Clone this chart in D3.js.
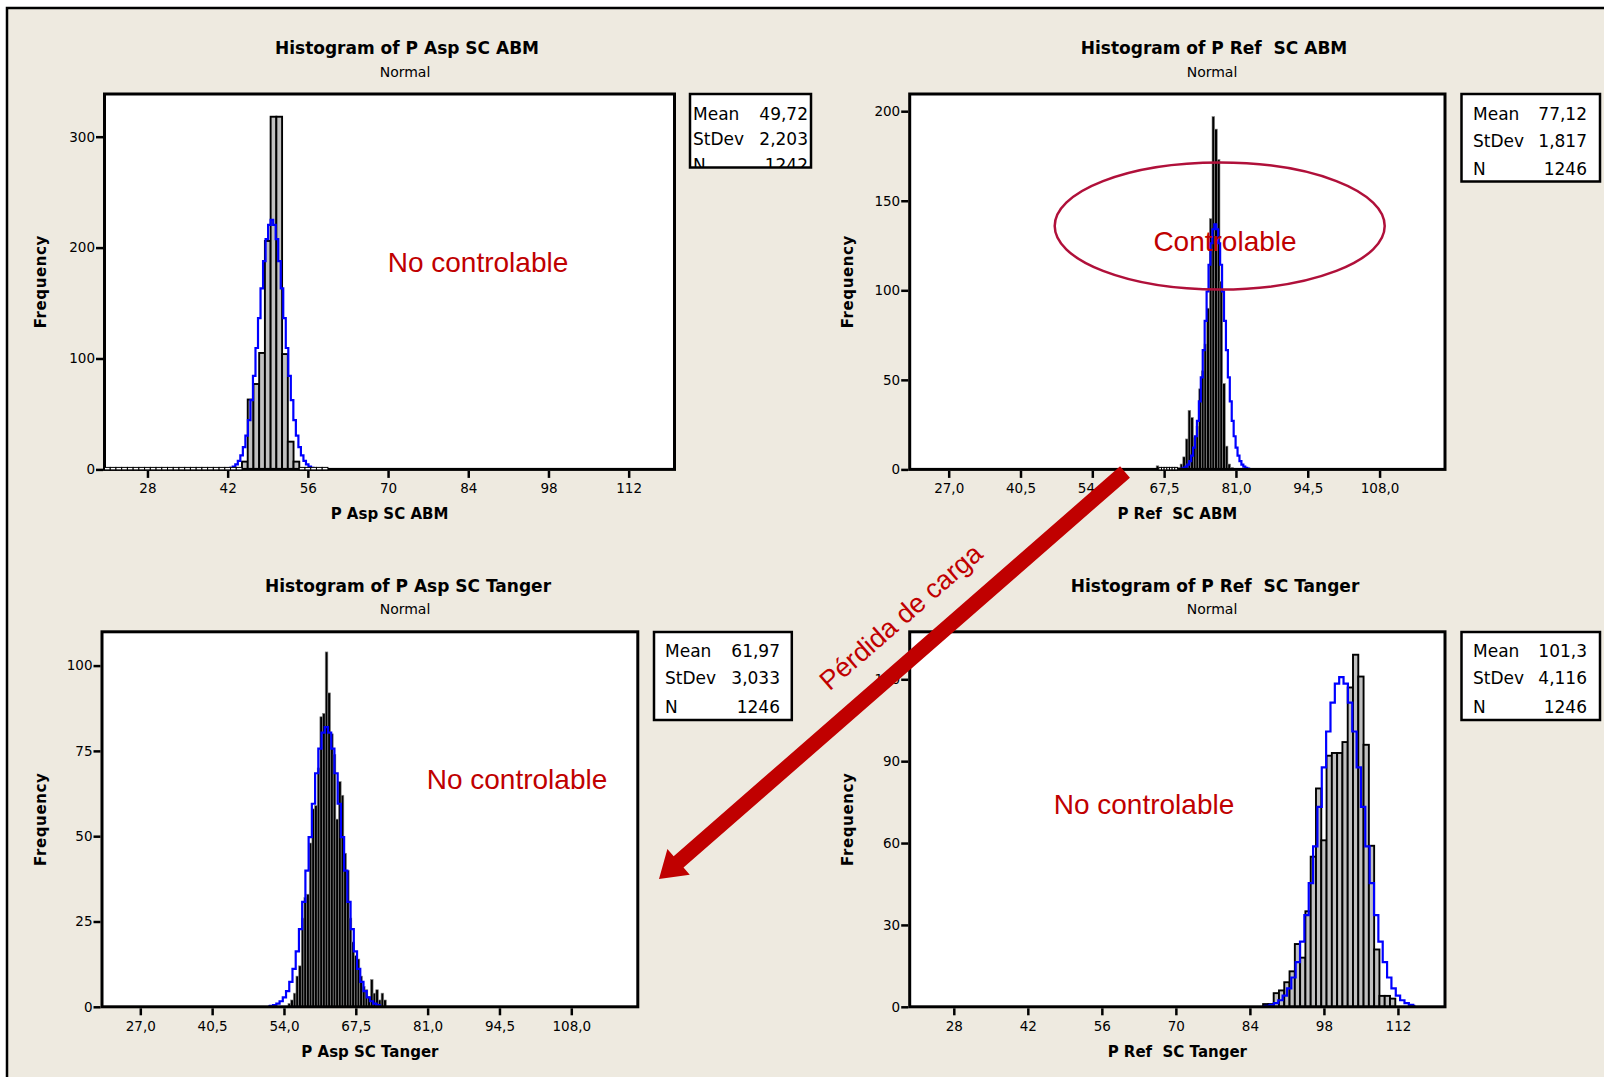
<!DOCTYPE html>
<html><head><meta charset="utf-8">
<script src="https://cdn.jsdelivr.net/npm/d3@7"></script>
<style>body{margin:0;background:#fff;} svg{display:block} text{white-space:pre}</style>
</head><body>
<svg id="c" width="1604" height="1077"></svg>
<script>
// ---------------- DATA ----------------
const statLabels = ["Mean", "StDev", "N"];

// Panel 1 : P Asp SC ABM
const p1Title = "Histogram of P Asp SC ABM";
const p1XLabel = "P Asp SC ABM";
const p1XDomain = [20.5, 120];
const p1XTicks = [28, 42, 56, 70, 84, 98, 112];
const p1XTickLabels = ["28", "42", "56", "70", "84", "98", "112"];
const p1YMax = 338.5;
const p1YTicks = [0, 100, 200, 300];
const p1BinStart = 20.5;
const p1BinWidth = 1;
const p1Counts = [0,0,0,0,0,0,0,0,0,0,0,0,0,0,0,0,0,0,0,0,0,0,0,0,
  7,63,77,105,206,318,318,104,25,7,
  0,0,0,0,0];
const p1Mean = 49.72, p1StDev = 2.203, p1N = 1242;
const p1StatValues = ["49,72", "2,203", "1242"];

// Panel 2 : P Ref SC ABM
const p2Title = "Histogram of P Ref  SC ABM";
const p2XLabel = "P Ref  SC ABM";
const p2XDomain = [19.67, 120.3];
const p2XTicks = [27, 40.5, 54, 67.5, 81, 94.5, 108];
const p2XTickLabels = ["27,0", "40,5", "54,0", "67,5", "81,0", "94,5", "108,0"];
const p2YMax = 209.6;
const p2YTicks = [0, 50, 100, 150, 200];
const p2BinStart = 66.0;
const p2BinWidth = 0.5;
const p2Counts = [2,0,0,0,0,0,0,0,1,3,7,17,33,29,18,24,45,55,70,90,140,197,190,173,105,48,13,3,1];
const p2Mean = 77.12, p2StDev = 1.817, p2N = 1246;
const p2StatValues = ["77,12", "1,817", "1246"];

// Panel 3 : P Asp SC Tanger
const p3Title = "Histogram of P Asp SC Tanger";
const p3XLabel = "P Asp SC Tanger";
const p3XDomain = [19.8, 120.5];
const p3XTicks = [27, 40.5, 54, 67.5, 81, 94.5, 108];
const p3XTickLabels = ["27,0", "40,5", "54,0", "67,5", "81,0", "94,5", "108,0"];
const p3YMax = 109.9;
const p3YTicks = [0, 25, 50, 75, 100];
const p3BinStart = 54.75;
const p3BinWidth = 0.5;
const p3Counts = [1,2,4,9,12,26,32,33,48,58,59,70,85,86,104,92,80,74,55,66,62,45,40,26,19,15,14,9,6,5,3,8,4,5,2,4,2];
const p3Mean = 61.97, p3StDev = 3.033, p3N = 1246;
const p3StatValues = ["61,97", "3,033", "1246"];

// Panel 4 : P Ref SC Tanger
const p4Title = "Histogram of P Ref  SC Tanger";
const p4XLabel = "P Ref  SC Tanger";
const p4XDomain = [19.66, 120.9];
const p4XTicks = [28, 42, 56, 70, 84, 98, 112];
const p4XTickLabels = ["28", "42", "56", "70", "84", "98", "112"];
const p4YMax = 137.4;
const p4YTicks = [0, 30, 60, 90, 120];
const p4BinStart = 86.5;
const p4BinWidth = 1;
const p4Counts = [1,1,5,6,9,13,23,18,35,55,80,61,92,93,93,97,117,129,121,96,59,21,4,4,3];
const p4Mean = 101.3, p4StDev = 4.116, p4N = 1246;
const p4StatValues = ["101,3", "4,116", "1246"];

// Annotations
const noteNoControl = "No controlable";
const noteControl = "Controlable";
const noteArrow = "Pérdida de carga";

// ---------------- LAYOUT ----------------
const FONT = "'DejaVu Sans', Verdana, sans-serif";
const RFONT = "'Liberation Sans', Arial, sans-serif";
const RED = "#C00000";

const panels = [
  {title: p1Title, xlabel: p1XLabel, xDomain: p1XDomain, xTicks: p1XTicks, xTickLabels: p1XTickLabels,
   yMax: p1YMax, yTicks: p1YTicks, binStart: p1BinStart, binWidth: p1BinWidth, counts: p1Counts,
   mean: p1Mean, sd: p1StDev, n: p1N, stats: p1StatValues,
   L: {x0: 104.5, x1: 674.5, y0: 94, y1: 469.4, box: [690, 94, 811, 167.5], lx: 693, vx: 808, rows: [114, 139, 165],
       tx: 407, ty: 48, sy: 72, sx: 405, fx: 41, xly: 514, fill: "#C0C0C0", stroke: "#000", sw: 1.9}},
  {title: p2Title, xlabel: p2XLabel, xDomain: p2XDomain, xTicks: p2XTicks, xTickLabels: p2XTickLabels,
   yMax: p2YMax, yTicks: p2YTicks, binStart: p2BinStart, binWidth: p2BinWidth, counts: p2Counts,
   mean: p2Mean, sd: p2StDev, n: p2N, stats: p2StatValues,
   L: {x0: 909.7, x1: 1445, y0: 94, y1: 469.4, box: [1461.5, 94, 1600, 181.5], lx: 1473, vx: 1587, rows: [113.5, 141, 169],
       tx: 1214, ty: 48, sy: 72, sx: 1212, fx: 848, xly: 514, fill: "#000", stroke: "#8A8A8A", sw: 0.6}},
  {title: p3Title, xlabel: p3XLabel, xDomain: p3XDomain, xTicks: p3XTicks, xTickLabels: p3XTickLabels,
   yMax: p3YMax, yTicks: p3YTicks, binStart: p3BinStart, binWidth: p3BinWidth, counts: p3Counts,
   mean: p3Mean, sd: p3StDev, n: p3N, stats: p3StatValues,
   L: {x0: 102, x1: 637.8, y0: 631.8, y1: 1006.8, box: [654, 632, 791.8, 720], lx: 665, vx: 780, rows: [651, 678, 707],
       tx: 408, ty: 586, sy: 609, sx: 405, fx: 41, xly: 1052, fill: "#000", stroke: "#8A8A8A", sw: 0.6}},
  {title: p4Title, xlabel: p4XLabel, xDomain: p4XDomain, xTicks: p4XTicks, xTickLabels: p4XTickLabels,
   yMax: p4YMax, yTicks: p4YTicks, binStart: p4BinStart, binWidth: p4BinWidth, counts: p4Counts,
   mean: p4Mean, sd: p4StDev, n: p4N, stats: p4StatValues,
   L: {x0: 909.7, x1: 1445, y0: 631.8, y1: 1006.8, box: [1461.5, 632, 1600, 720], lx: 1473, vx: 1587, rows: [651, 678, 707],
       tx: 1215, ty: 586, sy: 609, sx: 1212, fx: 848, xly: 1052, fill: "#C0C0C0", stroke: "#000", sw: 1.9}}
];

// ---------------- DRAW ----------------
const svg = d3.select("#c");
svg.append("rect").attr("width", 1604).attr("height", 1077).attr("fill", "#fff");
svg.append("rect").attr("x", 7).attr("y", 8).attr("width", 1597).attr("height", 1069).attr("fill", "#EEEAE0");
svg.append("path").attr("d", "M7,1077V8H1604").attr("fill", "none").attr("stroke", "#000").attr("stroke-width", 2.5);
const defs = svg.append("defs");

panels.forEach((p, pi) => {
  const L = p.L;
  const g = svg.append("g");
  const x = d3.scaleLinear().domain(p.xDomain).range([L.x0, L.x1]);
  const y = d3.scaleLinear().domain([0, p.yMax]).range([L.y1, L.y0]);

  // titles
  g.append("text").attr("x", L.tx).attr("y", L.ty).attr("text-anchor", "middle").attr("dominant-baseline", "central")
    .attr("font-family", FONT).attr("font-weight", "bold").attr("font-size", 17).text(p.title);
  g.append("text").attr("x", L.sx).attr("y", L.sy).attr("text-anchor", "middle").attr("dominant-baseline", "central")
    .attr("font-family", FONT).attr("font-size", 14).text("Normal");

  // plot area
  g.append("rect").attr("x", L.x0).attr("y", L.y0).attr("width", L.x1 - L.x0).attr("height", L.y1 - L.y0).attr("fill", "#fff");
  defs.append("clipPath").attr("id", "clip" + pi).append("rect")
    .attr("x", L.x0).attr("y", L.y0).attr("width", L.x1 - L.x0).attr("height", L.y1 - L.y0);

  const bins = p.counts.map((c, i) => ({x0: p.binStart + i * p.binWidth, x1: p.binStart + (i + 1) * p.binWidth, c}));
  const plot = g.append("g").attr("clip-path", `url(#clip${pi})`);
  plot.selectAll("rect.bar").data(bins.filter(b => b.c > 0)).join("rect").attr("class", "bar")
    .attr("x", b => x(b.x0)).attr("width", b => x(b.x1) - x(b.x0))
    .attr("y", b => y(b.c)).attr("height", b => y(0) - y(b.c))
    .attr("fill", L.fill).attr("stroke", L.stroke).attr("stroke-width", L.sw);

  // fitted normal curve (from the Mean / StDev / N shown in the box)
  const pdf = v => Math.exp(-0.5 * Math.pow((v - p.mean) / p.sd, 2)) / (p.sd * Math.sqrt(2 * Math.PI));
  const pts = d3.range(p.mean - 3.6 * p.sd, p.mean + 3.6 * p.sd, 0.2 * p.sd).map(v => [v, p.n * p.binWidth * pdf(v)]);
  plot.append("path").datum(pts)
    .attr("d", d3.line().x(d => x(d[0])).y(d => y(d[1])).curve(d3.curveStep))
    .attr("fill", "none").attr("stroke", "#0000FF").attr("stroke-width", 2.2);

  // frame
  g.append("rect").attr("x", L.x0).attr("y", L.y0).attr("width", L.x1 - L.x0).attr("height", L.y1 - L.y0)
    .attr("fill", "none").attr("stroke", "#000").attr("stroke-width", 3);

  // empty bins drawn as dashes on the baseline
  g.selectAll("rect.zero").data(bins.filter(b => b.c === 0)).join("rect").attr("class", "zero")
    .attr("x", b => x(b.x0)).attr("width", b => x(b.x1) - x(b.x0))
    .attr("y", y(0) - 2).attr("height", 2.5)
    .attr("fill", "#fff").attr("stroke", "#000").attr("stroke-width", 1);

  // axes
  const xa = g.append("g").attr("transform", `translate(0,${L.y1 + 1.5})`)
    .call(d3.axisBottom(x).tickValues(p.xTicks).tickFormat((d, i) => p.xTickLabels[i]).tickSize(7).tickPadding(6));
  const ya = g.append("g").attr("transform", `translate(${L.x0 - 1.5},0)`)
    .call(d3.axisLeft(y).tickValues(p.yTicks).tickSize(7).tickPadding(1));
  [xa, ya].forEach(a => {
    a.select(".domain").remove();
    a.selectAll(".tick line").attr("stroke", "#000").attr("stroke-width", 2.5);
    a.selectAll(".tick text").attr("font-family", FONT).attr("font-size", 13.5).attr("fill", "#000");
  });

  // axis labels
  g.append("text").attr("x", (L.x0 + L.x1) / 2).attr("y", L.xly).attr("text-anchor", "middle").attr("dominant-baseline", "central")
    .attr("font-family", FONT).attr("font-weight", "bold").attr("font-size", 15).text(p.xlabel);
  g.append("text").attr("transform", `translate(${L.fx},${(L.y0 + L.y1) / 2}) rotate(-90)`)
    .attr("text-anchor", "middle").attr("dominant-baseline", "central")
    .attr("font-family", FONT).attr("font-weight", "bold").attr("font-size", 15).attr("letter-spacing", 0.6).text("Frequency");

  // stats box
  const [bx0, by0, bx1, by1] = L.box;
  defs.append("clipPath").attr("id", "bclip" + pi).append("rect")
    .attr("x", bx0).attr("y", by0).attr("width", bx1 - bx0).attr("height", by1 - by0);
  g.append("rect").attr("x", bx0).attr("y", by0).attr("width", bx1 - bx0).attr("height", by1 - by0).attr("fill", "#fff");
  const bt = g.append("g").attr("clip-path", `url(#bclip${pi})`);
  statLabels.forEach((s, i) => {
    bt.append("text").attr("x", L.lx).attr("y", L.rows[i]).attr("dominant-baseline", "central")
      .attr("font-family", FONT).attr("font-size", 17).text(s);
    bt.append("text").attr("x", L.vx).attr("y", L.rows[i]).attr("dominant-baseline", "central").attr("text-anchor", "end")
      .attr("font-family", FONT).attr("font-size", 17).text(p.stats[i]);
  });
  g.append("rect").attr("x", bx0).attr("y", by0).attr("width", bx1 - bx0).attr("height", by1 - by0)
    .attr("fill", "none").attr("stroke", "#000").attr("stroke-width", 2.5);
});

// ---------------- ANNOTATIONS ----------------
const ann = svg.append("g");
ann.append("ellipse").attr("cx", 1219.7).attr("cy", 226).attr("rx", 165).attr("ry", 63.5)
  .attr("fill", "none").attr("stroke", "#B0103A").attr("stroke-width", 2.5);
const redText = (t, xx, yy) => ann.append("text").attr("x", xx).attr("y", yy).attr("text-anchor", "middle")
  .attr("dominant-baseline", "central").attr("font-family", RFONT).attr("font-size", 28).attr("fill", RED).text(t);
redText(noteNoControl, 478, 262);
redText(noteControl, 1225, 241);
redText(noteNoControl, 517, 779);
redText(noteNoControl, 1144, 804);

// arrow
const A0 = [1125, 472], A1 = [659, 879];
const dx = A1[0] - A0[0], dy = A1[1] - A0[1], len = Math.hypot(dx, dy);
const ux = dx / len, uy = dy / len, nx = -uy, ny = ux;
const sw = 7.5, hw = 17, hl = 26;
const bxp = A1[0] - ux * hl, byp = A1[1] - uy * hl;
const arrowPts = [
  [A0[0] + nx * sw, A0[1] + ny * sw], [bxp + nx * sw, byp + ny * sw], [bxp + nx * hw, byp + ny * hw],
  A1, [bxp - nx * hw, byp - ny * hw], [bxp - nx * sw, byp - ny * sw], [A0[0] - nx * sw, A0[1] - ny * sw]
];
ann.append("path").attr("d", "M" + arrowPts.map(q => q.join(",")).join("L") + "Z").attr("fill", RED);
ann.append("text").attr("transform", `translate(901,617) rotate(${Math.atan2(dy, dx) * 180 / Math.PI + 180})`)
  .attr("text-anchor", "middle").attr("dominant-baseline", "central")
  .attr("font-family", RFONT).attr("font-size", 27).attr("fill", RED).text(noteArrow);
</script>
</body></html>
